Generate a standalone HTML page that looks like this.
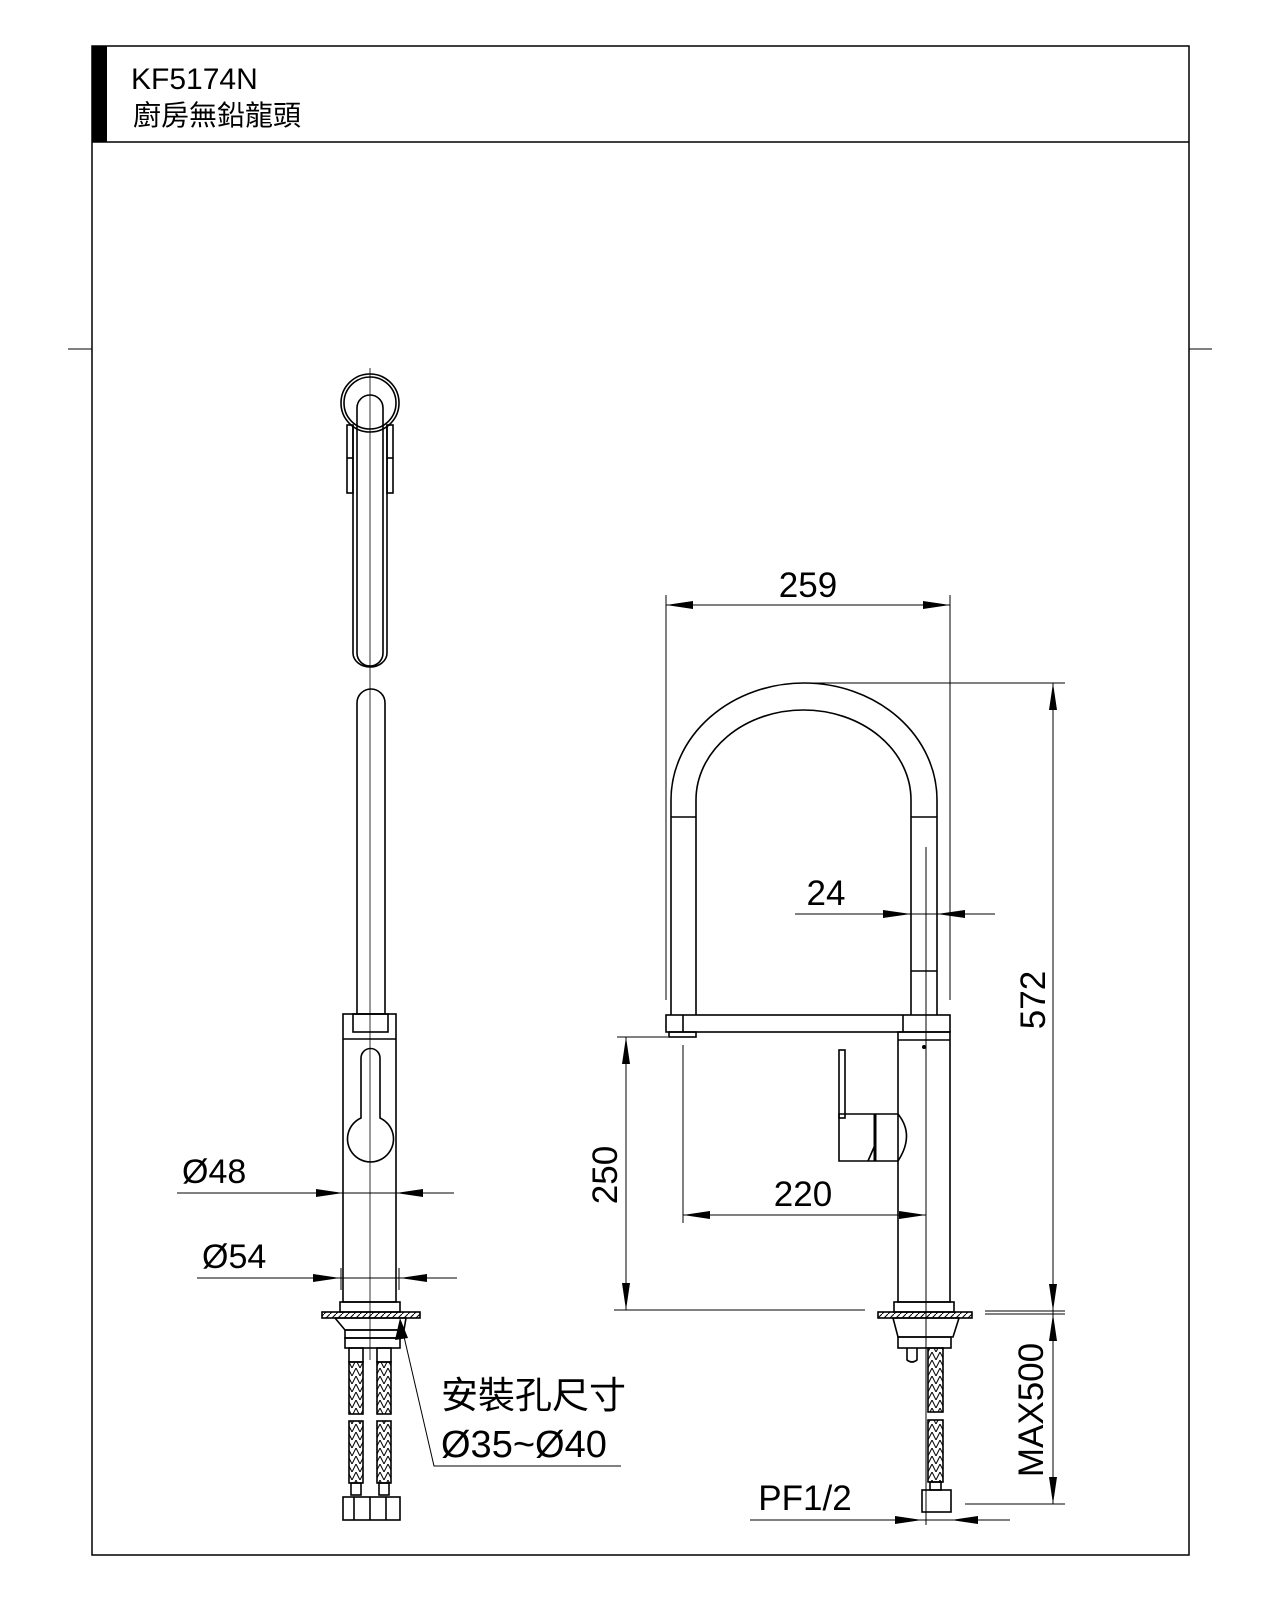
<!DOCTYPE html>
<html><head><meta charset="utf-8"><style>
html,body{margin:0;padding:0;background:#fff;}
svg{display:block;}
text{font-family:"Liberation Sans","Noto Sans CJK TC",sans-serif;fill:#000;}
</style></head><body>
<svg width="1280" height="1600" viewBox="0 0 1280 1600" xmlns="http://www.w3.org/2000/svg">
<defs>
<pattern id="hx" width="8" height="8" patternUnits="userSpaceOnUse"><path d="M0,8 L4,0 L8,8" fill="none" stroke="#000" stroke-width="1"/></pattern>
<pattern id="hs" width="6" height="6" patternUnits="userSpaceOnUse"><path d="M0,6 L6,0" stroke="#000" stroke-width="1"/></pattern>
</defs>
<rect x="92" y="46" width="1097" height="1509" fill="none" stroke="#000" stroke-width="1.5"/>
<line x1="92" y1="142" x2="1189" y2="142" stroke="#000" stroke-width="1.5"/>
<rect x="92" y="46" width="15" height="96" fill="#000"/>
<line x1="68" y1="349" x2="92" y2="349" stroke="#000"/>
<line x1="1189" y1="349" x2="1212" y2="349" stroke="#000"/>
<text x="131" y="89" font-size="30">KF5174N</text>
<text x="133" y="125" font-size="28">廚房無鉛龍頭</text>

<g fill="none" stroke="#000" stroke-width="1.6">
<line x1="370" y1="368" x2="370" y2="1360" stroke-width="0.8"/>
<circle cx="370" cy="403" r="29"/>
<circle cx="370" cy="403" r="26"/>
<path d="M357,408 A13,13 0 0 1 383,408 L383,653 A13,13 0 0 1 357,653 Z"/>
<path d="M353,425 L353,653 A17,14 0 0 0 387,653 L387,425"/>
<rect x="347" y="425" width="6" height="68"/>
<rect x="387" y="425" width="6" height="68"/>
<line x1="347" y1="458" x2="353" y2="458"/><line x1="387" y1="458" x2="393" y2="458"/>
<path d="M357,703 A14,14 0 0 1 385,703 L385,1014 L357,1014 Z"/>
<rect x="343" y="1014" width="53" height="288"/>
<rect x="353" y="1014" width="35" height="18"/>
<line x1="343" y1="1039" x2="396" y2="1039"/>
<path d="M361,1058 A9.5,9.5 0 0 1 380,1058 L380,1118 A23,23 0 1 1 361,1118 Z"/>
<rect x="340" y="1302" width="60" height="10"/>
<rect x="322" y="1312" width="98" height="6" fill="url(#hs)"/>
<path d="M335,1318 L406,1318 L404,1330 L345,1330 L335,1318"/>
<rect x="345" y="1330" width="55" height="8"/>
<rect x="345" y="1338" width="55" height="10"/>
<rect x="349" y="1348" width="14" height="14"/><rect x="377" y="1348" width="14" height="14"/>
<rect x="349" y="1362" width="14" height="52" fill="url(#hx)"/>
<rect x="377" y="1362" width="14" height="52" fill="url(#hx)"/>
<rect x="349" y="1421" width="14" height="62" fill="url(#hx)"/>
<rect x="377" y="1421" width="14" height="62" fill="url(#hx)"/>
<rect x="351" y="1483" width="10" height="12"/><rect x="379" y="1483" width="10" height="12"/>
<rect x="343" y="1497" width="57" height="23"/>
<line x1="370" y1="1497" x2="370" y2="1520"/>
<line x1="354" y1="1497" x2="354" y2="1520"/><line x1="386" y1="1497" x2="386" y2="1520"/>
<polyline points="402,1328 434,1466 621,1466" stroke-width="1"/>
</g>
<polygon points="400,1318 395,1340 408,1338" fill="#000"/>
<text x="441" y="1408" font-size="37">安裝孔尺寸</text>
<text x="441" y="1457" font-size="38">Ø35~Ø40</text>
<g stroke="#000" stroke-width="1">
<line x1="177" y1="1193" x2="454" y2="1193"/>
<line x1="197" y1="1278" x2="457" y2="1278"/>
<line x1="341" y1="1268" x2="341" y2="1290"/><line x1="399" y1="1268" x2="399" y2="1290"/>
</g>
<g fill="#000">
<polygon points="343,1193 316,1189 316,1197"/><polygon points="396,1193 423,1189 423,1197"/>
<polygon points="340,1278 313,1274 313,1282"/><polygon points="400,1278 427,1274 427,1282"/>
</g>
<text x="182" y="1183" font-size="34">Ø48</text>
<text x="202" y="1268" font-size="34">Ø54</text>

<g fill="none" stroke="#000" stroke-width="1.6">
<path d="M671,1015 L671,800 A133,117 0 0 1 937,800 L937,1015"/>
<path d="M696,1015 L696,800 A107.5,90 0 0 1 911,800 L911,1015"/>
<line x1="671" y1="817" x2="696" y2="817"/><line x1="911" y1="817" x2="937" y2="817"/>
<line x1="911" y1="971" x2="937" y2="971"/>
<rect x="666" y="1015" width="284" height="17"/>
<line x1="683" y1="1015" x2="683" y2="1032"/><line x1="903" y1="1015" x2="903" y2="1032"/>
<rect x="669" y="1032" width="27" height="5"/>
<rect x="898" y="1032" width="52" height="270"/>
<line x1="898" y1="1040" x2="950" y2="1040"/>
<rect x="839" y="1050" width="6" height="68"/>
<path d="M839,1114 L898,1114 Q915,1135 898,1161 L839,1161 Z"/>
<line x1="875" y1="1114" x2="875" y2="1161" stroke-width="3"/>
<path d="M868,1161 L875,1145"/>
<rect x="894" y="1302" width="60" height="10"/>
<rect x="878" y="1312" width="94" height="6" fill="url(#hs)"/>
<path d="M893,1318 L959,1318 L953,1337 L898,1337 Z"/>
<rect x="898" y="1337" width="53" height="11"/>
<path d="M907,1348 L907,1360 Q912,1364 917,1360 L917,1348"/>
<rect x="928" y="1348" width="15" height="64" fill="url(#hx)"/>
<rect x="928" y="1420" width="15" height="62" fill="url(#hx)"/>
<rect x="930" y="1482" width="11" height="8"/>
<rect x="922" y="1490" width="29" height="22"/>
</g>
<circle cx="924" cy="1047" r="2" fill="#000"/>
<g stroke="#000" stroke-width="1">
<line x1="926" y1="847" x2="926" y2="1525"/>
<line x1="666" y1="595" x2="666" y2="1000"/>
<line x1="950" y1="595" x2="950" y2="1000"/>
<line x1="666" y1="605" x2="950" y2="605"/>
<line x1="795" y1="914" x2="995" y2="914"/>
<line x1="800" y1="683" x2="1065" y2="683"/>
<line x1="1053" y1="683" x2="1053" y2="1504"/>
<line x1="985" y1="1311" x2="1065" y2="1311"/>
<line x1="985" y1="1314" x2="1065" y2="1314"/>
<line x1="965" y1="1504" x2="1065" y2="1504"/>
<line x1="617" y1="1037" x2="668" y2="1037"/>
<line x1="614" y1="1310" x2="865" y2="1310"/>
<line x1="626" y1="1037" x2="626" y2="1310"/>
<line x1="683" y1="1045" x2="683" y2="1223"/>
<line x1="683" y1="1215" x2="926" y2="1215"/>
<line x1="750" y1="1520" x2="1010" y2="1520"/>
</g>
<g fill="#000">
<polygon points="666,605 693,601 693,609"/><polygon points="950,605 923,601 923,609"/>
<polygon points="911,914 883,910 883,918"/><polygon points="937,914 965,910 965,918"/>
<polygon points="1053,683 1049,710 1057,710"/><polygon points="1053,1311 1049,1284 1057,1284"/>
<polygon points="1053,1314 1049,1341 1057,1341"/><polygon points="1053,1504 1049,1477 1057,1477"/>
<polygon points="626,1037 622,1064 630,1064"/><polygon points="626,1310 622,1283 630,1283"/>
<polygon points="683,1215 710,1211 710,1219"/><polygon points="926,1215 899,1211 899,1219"/>
<polygon points="922,1520 895,1516 895,1524"/><polygon points="951,1520 978,1516 978,1524"/>
</g>
<text x="808" y="597" font-size="35" text-anchor="middle">259</text>
<text x="826" y="905" font-size="35" text-anchor="middle">24</text>
<text x="803" y="1206" font-size="35" text-anchor="middle">220</text>
<text x="805" y="1510" font-size="35" text-anchor="middle">PF1/2</text>
<text transform="translate(617,1175) rotate(-90)" font-size="35" text-anchor="middle">250</text>
<text transform="translate(1045,1000) rotate(-90)" font-size="35" text-anchor="middle">572</text>
<text transform="translate(1043,1410) rotate(-90)" font-size="35" text-anchor="middle">MAX500</text>
</svg>
</body></html>
